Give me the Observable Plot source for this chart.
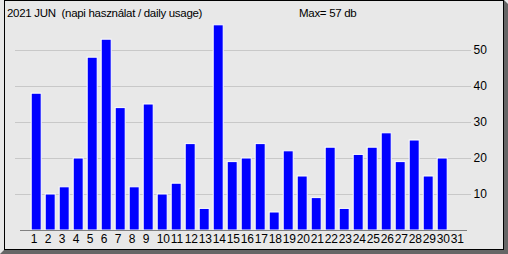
<!DOCTYPE html>
<html>
<head>
<meta charset="utf-8">
<script src="https://cdn.jsdelivr.net/npm/d3@7"></script>
<script src="https://cdn.jsdelivr.net/npm/@observablehq/plot@0.6"></script>
<style>
  html, body { margin: 0; padding: 0; background: #e8e8e8; }
  #wrap { position: relative; width: 508px; height: 254px; overflow: hidden; background: #e8e8e8; font-family: "Liberation Sans", Arial, sans-serif; }
  #frame { position: absolute; left: 4px; top: 0px; width: 498px; height: 248px; border: 1px solid #000; }
  #shadow { position: absolute; left: 0; top: 0; }
  .lbl { position: absolute; font-size: 11.5px; color: #000; white-space: pre; line-height: 1; letter-spacing: -0.3px; }
  #chart { position: absolute; left: 0; top: 0; }
</style>
</head>
<body>
<div id="wrap">
  <svg id="shadow" width="508" height="254"><polygon points="504,0 508,4 508,254 0,254 4,250 504,250" fill="#666666"/></svg>
  <div id="frame"></div>
  <div id="chart"></div>
  <div class="lbl" id="title" style="left:7px; top:8px;"></div>
  <div class="lbl" id="maxlbl" style="left:299px; top:8px;"></div>
</div>
<script>
const titleText = "2021 JUN  (napi használat / daily usage)";
const maxText = "Max= 57 db";
const days = [1,2,3,4,5,6,7,8,9,10,11,12,13,14,15,16,17,18,19,20,21,22,23,24,25,26,27,28,29,30,31];
const values = [38,10,12,20,48,53,34,12,35,10,13,24,6,57,19,20,24,5,22,15,9,23,6,21,23,27,19,25,15,20,0];
const yTicks = [10,20,30,40,50];

document.getElementById("title").textContent = titleText;
document.getElementById("maxlbl").textContent = maxText;

const data = days.map((d, i) => ({day: d, value: values[i]}));

const chart = Plot.plot({
  width: 508,
  height: 254,
  marginLeft: 15,
  marginRight: 37,
  marginTop: 20,
  marginBottom: 24,
  style: {background: "transparent", fontFamily: "Liberation Sans, Arial, sans-serif", fontSize: "12px", color: "#000"},
  x: {type: "band", domain: days, range: [31.2, 461.2], paddingInner: 0.2857, paddingOuter: 0, align: 0},
  y: {domain: [0, 50], range: [230, 50]},
  marks: [
    Plot.gridY(yTicks, {stroke: "#c8c8c8", strokeOpacity: 1}),
    Plot.barY(data, {filter: d => d.value > 0, x: "day", y: "value", fill: "#0000ff", stroke: "#ffffff", strokeWidth: 1}),
    Plot.ruleY([0], {stroke: "#808080", insetLeft: 5, insetRight: 4}),
    Plot.axisX({tickSize: 0, tickPadding: 4, textAnchor: "start", dx: -6, label: null, fill: "#000", fontSize: 12}),
    Plot.axisY(yTicks, {anchor: "right", tickSize: 0, tickPadding: 2, textAnchor: "start", label: null, fill: "#000", fontSize: 12})
  ]
});
document.getElementById("chart").appendChild(chart);
</script>
</body>
</html>
